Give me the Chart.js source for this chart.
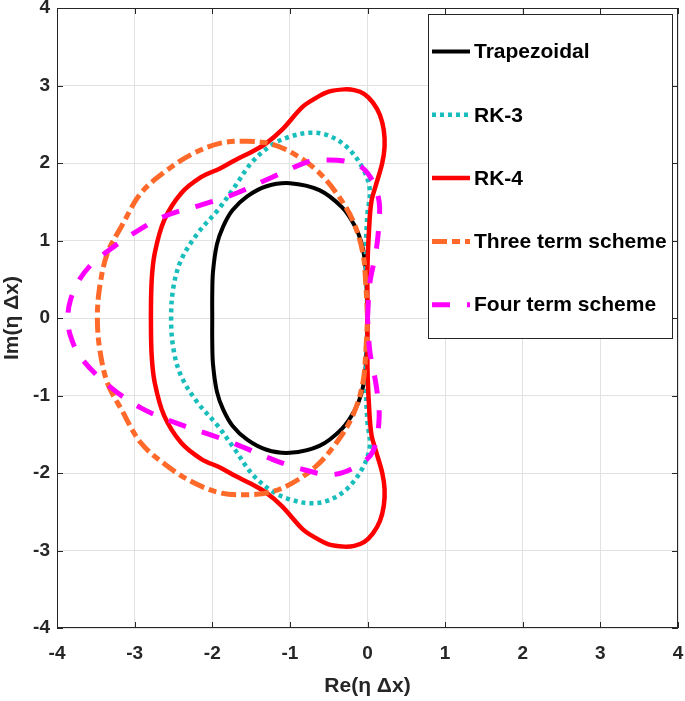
<!DOCTYPE html>
<html><head><meta charset="utf-8">
<script src="https://cdn.jsdelivr.net/npm/chart.js@4.4.0/dist/chart.umd.min.js"></script>
<style>html,body{margin:0;padding:0;background:#fff;}#wrap{width:685px;height:701px;}</style>
</head><body><div id="wrap"><canvas id="c" width="685" height="701"></canvas></div>
<script>
const seriesNames = ['Trapezoidal', 'RK-3', 'RK-4', 'Three term scheme', 'Four term scheme'];
const xTicks = [-4, -3, -2, -1, 0, 1, 2, 3, 4];
const yTicks = [-4, -3, -2, -1, 0, 1, 2, 3, 4];
const xTitle = 'Re(\u03B7 \u0394x)';
const yTitle = 'Im(\u03B7 \u0394x)';

const trapX = [0, -0.01, -0.03, -0.08, -0.17, -0.33, -0.62, -1.00, -1.30, -1.55, -1.74, -1.86, -1.94, -1.99, -2.00, -2.00, -2.00, -1.99, -1.94, -1.86, -1.74, -1.55, -1.30, -1.00, -0.62, -0.33, -0.17, -0.08, -0.03, -0.01, 0];
const trapY = [0, 0.35, 0.70, 0.98, 1.20, 1.43, 1.65, 1.74, 1.70, 1.57, 1.39, 1.18, 0.95, 0.60, 0.30, 0, -0.30, -0.60, -0.95, -1.18, -1.39, -1.57, -1.70, -1.74, -1.65, -1.43, -1.20, -0.98, -0.70, -0.35, 0];

const rk3X = [0, -0.01, -0.02, 0.00, 0.03, -0.06, -0.27, -0.52, -0.75, -1.00, -1.22, -1.48, -1.72, -1.93, -2.19, -2.40, -2.50, -2.53, -2.50, -2.40, -2.19, -1.93, -1.72, -1.48, -1.22, -1.00, -0.75, -0.52, -0.27, -0.06, 0.03, 0.00, -0.02, -0.01, 0];
const rk3Y = [0, 0.45, 0.92, 1.35, 1.65, 1.93, 2.21, 2.36, 2.39, 2.34, 2.24, 2.02, 1.68, 1.39, 1.09, 0.75, 0.40, 0, -0.40, -0.75, -1.09, -1.39, -1.68, -2.02, -2.24, -2.34, -2.39, -2.36, -2.21, -1.93, -1.65, -1.35, -0.92, -0.45, 0];

const rk4X = [0, 0.00, 0.02, 0.05, 0.11, 0.19, 0.22, 0.21, 0.16, 0.07, -0.04, -0.17, -0.30, -0.50, -0.68, -0.84, -1.10, -1.31, -1.50, -1.70, -1.90, -2.14, -2.40, -2.62, -2.74, -2.78, -2.79,
  -2.78, -2.74, -2.62, -2.40, -2.14, -1.90, -1.70, -1.50, -1.31, -1.10, -0.84, -0.68, -0.50, -0.30, -0.17, -0.04, 0.07, 0.16, 0.21, 0.22, 0.19, 0.11, 0.05, 0.02, 0.00, 0];
const rk4Y = [0, 0.66, 1.14, 1.50, 1.72, 2.00, 2.21, 2.42, 2.62, 2.78, 2.89, 2.94, 2.95, 2.92, 2.83, 2.72, 2.43, 2.25, 2.14, 2.04, 1.93, 1.82, 1.61, 1.26, 0.84, 0.49, 0,
  -0.49, -0.84, -1.26, -1.61, -1.82, -1.93, -2.04, -2.14, -2.25, -2.43, -2.72, -2.83, -2.92, -2.95, -2.94, -2.89, -2.78, -2.62, -2.42, -2.21, -2.00, -1.72, -1.50, -1.14, -0.66, 0];

const thrX = [0, -0.02, -0.06, -0.19, -0.40, -0.66, -0.97, -1.26, -1.56, -1.88, -2.23, -2.58, -2.92, -3.17, -3.35, -3.45, -3.48,
  -3.45, -3.35, -3.17, -2.92, -2.58, -2.23, -1.88, -1.56, -1.26, -0.97, -0.66, -0.40, -0.19, -0.06, -0.02, 0];
const thrY = [0, 0.40, 0.84, 1.26, 1.61, 1.91, 2.13, 2.25, 2.28, 2.26, 2.13, 1.91, 1.61, 1.18, 0.84, 0.40, 0,
  -0.40, -0.84, -1.18, -1.61, -1.91, -2.13, -2.26, -2.28, -2.25, -2.13, -1.91, -1.61, -1.26, -0.84, -0.40, 0];

const fourX = [0, 0.03, 0.11, 0.15, 0.15, 0.07, -0.08, -0.27, -0.50, -0.75, -1.22, -1.74, -2.14, -2.62, -3.05, -3.35, -3.55, -3.72, -3.83, -3.86, -3.83, -3.70, -3.35, -2.92, -2.40, -2.01, -1.69, -1.26, -0.88, -0.45, -0.10, 0.07, 0.15, 0.11, 0.03, 0];
const fourY = [0, 0.45, 0.86, 1.25, 1.50, 1.76, 1.95, 2.02, 2.04, 2.02, 1.82, 1.59, 1.46, 1.31, 1.07, 0.86, 0.70, 0.48, 0.22, 0, -0.22, -0.50, -0.86, -1.16, -1.38, -1.51, -1.63, -1.81, -1.94, -2.02, -1.89, -1.72, -1.29, -0.86, -0.43, 0];

const pts = (xs, ys) => xs.map((v, i) => ({x: v, y: ys[i]}));
const FONT = '"Liberation Sans", Arial, Helvetica, sans-serif';
Chart.defaults.font.family = FONT;

const frameLegend = {
  id: 'frameLegend',
  afterDraw(chart) {
    const {ctx, chartArea: a, scales: {x, y}} = chart;
    ctx.save();
    ctx.strokeStyle = '#262626';
    ctx.lineWidth = 1;
    ctx.setLineDash([]);
    ctx.strokeRect(a.left + 0.5, a.top + 0.5, a.right - a.left - 1, a.bottom - a.top - 1);
    ctx.beginPath();
    xTicks.forEach(v => {
      const p = Math.round(x.getPixelForValue(v)) + 0.5;
      ctx.moveTo(p, a.bottom); ctx.lineTo(p, a.bottom - 6);
      ctx.moveTo(p, a.top); ctx.lineTo(p, a.top + 6);
    });
    yTicks.forEach(v => {
      const p = Math.round(y.getPixelForValue(v)) + 0.5;
      ctx.moveTo(a.left, p); ctx.lineTo(a.left + 6, p);
      ctx.moveTo(a.right, p); ctx.lineTo(a.right - 6, p);
    });
    ctx.stroke();
    // legend box
    const bx = 428, by = 14, bw = 244, bh = 324;
    ctx.fillStyle = '#ffffff';
    ctx.fillRect(bx, by, bw, bh);
    ctx.strokeStyle = '#262626';
    ctx.strokeRect(bx + 0.5, by + 0.5, bw, bh);
    chart.data.datasets.forEach((ds, i) => {
      const cy = by + 37.5 + i * 63.3;
      ctx.save();
      ctx.strokeStyle = ds.borderColor;
      ctx.lineWidth = ds.borderWidth;
      ctx.setLineDash(ds.borderDash || []);
      ctx.lineCap = 'butt';
      ctx.beginPath();
      ctx.moveTo(432, cy); ctx.lineTo(470, cy);
      ctx.stroke();
      ctx.restore();
      ctx.fillStyle = '#000000';
      ctx.font = 'bold 21px ' + FONT;
      ctx.textAlign = 'left';
      ctx.textBaseline = 'middle';
      ctx.fillText(ds.label, 474, cy + 1);
    });
    ctx.restore();
  }
};

const noPad = s => { s.paddingLeft = 0; s.paddingRight = 0; s.paddingTop = 0; s.paddingBottom = 0; };
const colors = ['#000000', '#17BEBB', '#FF0000', '#FF6A2A', '#FF00FF'];
const dashes = [[], [4, 4], [], [15, 5, 8, 5], [18, 17]];
const widths = [4, 4.5, 4.5, 5, 5];
const dataSets = [pts(trapX, trapY), pts(rk3X, rk3Y), pts(rk4X, rk4Y), pts(thrX, thrY), pts(fourX, fourY)];

new Chart(document.getElementById('c'), {
  type: 'scatter',
  data: {
    datasets: dataSets.map((d, i) => ({
      label: seriesNames[i],
      data: d,
      showLine: true,
      borderColor: colors[i],
      backgroundColor: colors[i],
      borderWidth: widths[i],
      borderDash: dashes[i],
      borderCapStyle: 'butt',
      pointRadius: 0,
      pointHoverRadius: 0,
      tension: 0.35,
      fill: false,
      order: 5 - i
    }))
  },
  options: {
    responsive: false,
    animation: false,
    devicePixelRatio: 1,
    layout: {autoPadding: false, padding: {top: 8, right: 7, left: 0, bottom: 0}},
    plugins: {legend: {display: false}, tooltip: {enabled: false}},
    scales: {
      x: {
        type: 'linear', min: -4, max: 4,
        afterFit: s => { s.height = 73; noPad(s); },
        afterBuildTicks: s => { s.ticks = xTicks.map(v => ({value: v})); },
        grid: {color: '#e2e2e2', drawTicks: false, lineWidth: 1},
        border: {display: false},
        ticks: {color: '#262626', font: {size: 19, weight: 'bold'}, padding: 14, maxRotation: 0,
                callback: v => String(v)},
        title: {display: true, text: xTitle, color: '#262626', font: {size: 21, weight: 'bold'}, padding: {top: 0, bottom: 2}}
      },
      y: {
        type: 'linear', min: -4, max: 4,
        afterFit: s => { s.width = 57; noPad(s); },
        afterBuildTicks: s => { s.ticks = yTicks.map(v => ({value: v})); },
        grid: {color: '#e2e2e2', drawTicks: false, lineWidth: 1},
        border: {display: false},
        ticks: {color: '#262626', font: {size: 19, weight: 'bold'}, padding: 7,
                callback: v => String(v)},
        title: {display: true, text: yTitle, color: '#262626', font: {size: 21, weight: 'bold'}, padding: {top: 0, bottom: 0}}
      }
    }
  },
  plugins: [frameLegend]
});
</script>
</body></html>
